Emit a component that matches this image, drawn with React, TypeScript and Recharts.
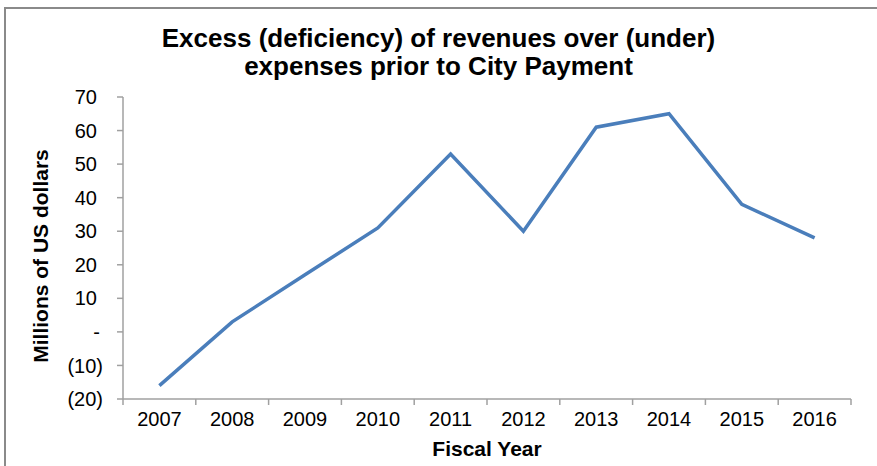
import { LineChart, Line, XAxis, YAxis } from "recharts";

const years = ["2007", "2008", "2009", "2010", "2011", "2012", "2013", "2014", "2015", "2016"];
const excess = [-16, 3, 17, 31, 53, 30, 61, 65, 38, 28];
const yTicks = [-20, -10, 0, 10, 20, 30, 40, 50, 60, 70];

const chartData = years.map((year, i) => ({ year, value: excess[i] }));

const FONT = "'Liberation Sans', Arial, sans-serif";
const AXIS = "#a0a0a0";

const W = 877;
const H = 466;
const M = { top: 97, right: 26, left: 0, bottom: 0 };
const Y_W = 123;
const X_H = 67;
const BAND = (W - M.left - M.right - Y_W) / years.length;

// Excel-style accounting labels: (20), -, 10
function formatTick(v: number) {
  if (v < 0) return `(${-v})`;
  if (v === 0) return "-";
  return String(v);
}

function YTick(props: any) {
  const { x, y, payload } = props;
  const v = payload.value;
  const shift = v < 0 ? 6 : v === 0 ? 3 : 0;
  return (
    <text
      x={x + shift}
      y={y}
      dy="0.355em"
      textAnchor="end"
      fontSize={20}
      fontFamily={FONT}
      fill="#000"
    >
      {formatTick(v)}
    </text>
  );
}

// category label in the middle, tick marks on the band edges (Excel style)
function XTick(props: any) {
  const { x, y, payload, index } = props;
  const axisY = H - X_H;
  const left = x - BAND / 2;
  const right = x + BAND / 2;
  return (
    <g>
      <line x1={left} x2={left} y1={axisY} y2={axisY + 6} stroke={AXIS} strokeWidth={1.5} />
      {index === years.length - 1 && (
        <line x1={right} x2={right} y1={axisY} y2={axisY + 6} stroke={AXIS} strokeWidth={1.5} />
      )}
      <text
        x={x}
        y={y}
        dy="0.71em"
        textAnchor="middle"
        fontSize={20}
        fontFamily={FONT}
        fill="#000"
      >
        {payload.value}
      </text>
    </g>
  );
}

export default function App() {
  return (
    <div
      style={{
        position: "absolute",
        left: 0,
        top: 0,
        width: W,
        height: H,
        overflow: "hidden",
        background: "#fff",
      }}
    >
      {/* frame of the Excel chart area, right and bottom edges fall off the picture */}
      <div
        style={{
          position: "absolute",
          left: 4,
          top: 7,
          width: 900,
          height: 500,
          borderLeft: "2px solid #8a8a8a",
          borderTop: "2px solid #8a8a8a",
        }}
      />
      <div
        style={{
          position: "absolute",
          left: 0,
          top: 24,
          width: W,
          textAlign: "center",
          fontFamily: FONT,
          fontWeight: "bold",
          fontSize: 26,
          lineHeight: "28px",
          color: "#000",
        }}
      >
        Excess (deficiency) of revenues over (under)
        <br />
        expenses prior to City Payment
      </div>
      <div style={{ position: "absolute", left: 0, top: 0 }}>
        <LineChart width={W} height={H} data={chartData} margin={M}>
          <XAxis
            dataKey="year"
            scale="band"
            height={X_H}
            axisLine={{ stroke: AXIS, strokeWidth: 1.5 }}
            tickLine={false}
            tickSize={6}
            tickMargin={7}
            interval={0}
            tick={<XTick />}
            label={{
              value: "Fiscal Year",
              position: "insideBottom",
              offset: 10,
              fontSize: 21,
              fontWeight: "bold",
              fontFamily: FONT,
              fill: "#000",
            }}
          />
          <YAxis
            width={Y_W}
            domain={[-20, 70]}
            ticks={yTicks}
            interval={0}
            tickSize={6}
            tickMargin={20}
            tick={<YTick />}
            axisLine={{ stroke: AXIS, strokeWidth: 1.5 }}
            tickLine={{ stroke: AXIS, strokeWidth: 1.5 }}
            label={() => (
              <text
                x={48}
                y={256}
                transform="rotate(-90, 48, 256)"
                textAnchor="middle"
                fontSize={21}
                fontWeight="bold"
                fontFamily={FONT}
                fill="#000"
              >
                Millions of US dollars
              </text>
            )}
          />
          <Line
            dataKey="value"
            stroke="#4a7ebb"
            strokeWidth={3.5}
            dot={false}
            isAnimationActive={false}
          />
        </LineChart>
      </div>
    </div>
  );
}
